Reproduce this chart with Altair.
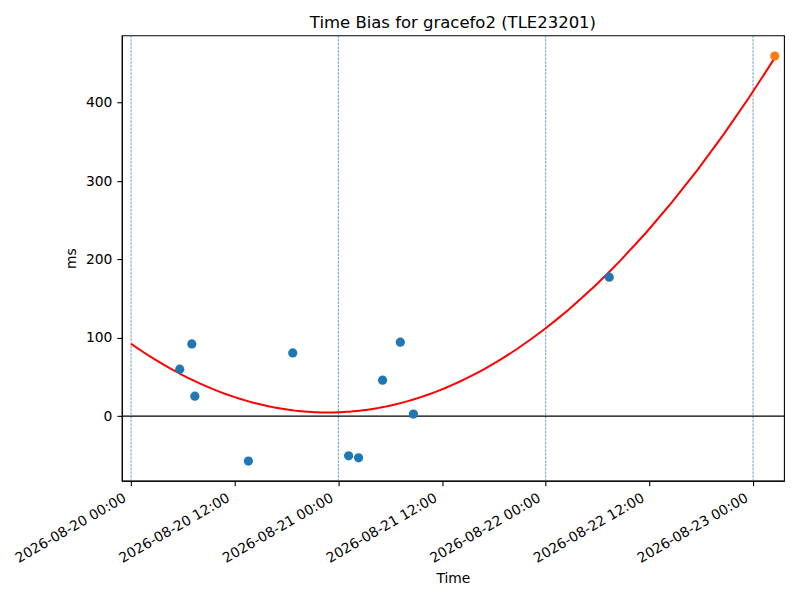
import altair as alt
import pandas as pd

# ---- data ----
obs_times = ["2026-08-20 05:38", "2026-08-20 07:02", "2026-08-20 07:23", "2026-08-20 13:35",
             "2026-08-20 18:43", "2026-08-21 01:11", "2026-08-21 02:20", "2026-08-21 05:07",
             "2026-08-21 07:10", "2026-08-21 08:41", "2026-08-22 07:21"]
obs_bias = [59.9, 92.2, 25.5, -57.4, 80.7, -50.6, -53.2, 45.9, 94.4, 2.6, 177.3]
pred_times = ["2026-08-23 02:31"]
pred_bias = [459.6]
day_marks = ["2026-08-20 00:00", "2026-08-21 00:00", "2026-08-22 00:00", "2026-08-23 00:00"]
fit_start = "2026-08-20 00:00"
tick_times = ["2026-08-20 00:00", "2026-08-20 12:00", "2026-08-21 00:00", "2026-08-21 12:00",
              "2026-08-22 00:00", "2026-08-22 12:00", "2026-08-23 00:00"]
x_range = ["2026-08-19 22:56", "2026-08-23 03:35"]
y_range = [-82.5, 486]
y_ticks = [0, 100, 200, 300, 400]


def ms(ts):
    return [int(pd.Timestamp(t, tz="UTC").timestamp() * 1000) for t in ts]


obs = pd.DataFrame({"t": ms(obs_times), "v": obs_bias})
pred = pd.DataFrame({"t": ms(pred_times), "v": pred_bias})
days = pd.DataFrame({"t": ms(day_marks)})
zero = pd.DataFrame({"v": [0]})

FONT = "DejaVu Sans"

x_scale = alt.Scale(type="utc", domain=ms(x_range), nice=False)
y_scale = alt.Scale(domain=y_range, nice=False, zero=False)

x_axis = alt.Axis(values=ms(tick_times), format="%Y-%m-%d %H:%M", labelAngle=-30,
                  labelAlign="right", labelBaseline="bottom", title="Time", grid=False,
                  tickSize=5, labelPadding=17, titlePadding=6, labelFlush=False,
                  labelOverlap=False, labelOffset=-3)
y_axis = alt.Axis(values=y_ticks, title="ms", grid=False, tickSize=5, labelPadding=5,
                  titlePadding=7)

X = alt.X("t:T", scale=x_scale, axis=x_axis)
Y = alt.Y("v:Q", scale=y_scale, axis=y_axis)

vlines = alt.Chart(days).mark_rule(color="#1f77b4", strokeWidth=0.7,
                                    strokeDash=[2.6, 1.1]).encode(x=alt.X("t:T", scale=x_scale, axis=x_axis))
hline = alt.Chart(zero).mark_rule(color="black", strokeWidth=1.1).encode(
    y=alt.Y("v:Q", scale=y_scale, axis=y_axis))

fit = alt.Chart(obs).transform_regression(
    "t", "v", method="poly", order=2, extent=[ms([fit_start])[0], ms(pred_times)[0]]
).mark_line(color="red", strokeWidth=2).encode(x=X, y=Y)

pts = alt.Chart(obs).mark_circle(color="#1f77b4", size=85, opacity=1).encode(x=X, y=Y)
ppt = alt.Chart(pred).mark_circle(color="#ff7f0e", size=85, opacity=1).encode(x=X, y=Y)

chart = alt.layer(vlines, hline, fit, pts, ppt).properties(
    width=663, height=446,
    title=alt.TitleParams("Time Bias for gracefo2 (TLE23201)", fontSize=16.5, font=FONT,
                          fontWeight="normal", color="black", offset=3),
    autosize=alt.AutoSizeParams(type="none"),
    padding={"left": 114, "top": 27, "right": 8, "bottom": 110},
).configure_view(stroke="black", strokeWidth=1.1).configure_axis(
    labelFont=FONT, titleFont=FONT, labelFontSize=13.9, titleFontSize=13.9,
    labelColor="black", titleColor="black", domainColor="black", tickColor="black",
    domainWidth=1.1, tickWidth=1.1, titleFontWeight="normal"
)

chart.save("out.html", embed_options={"renderer": "svg", "actions": False})
